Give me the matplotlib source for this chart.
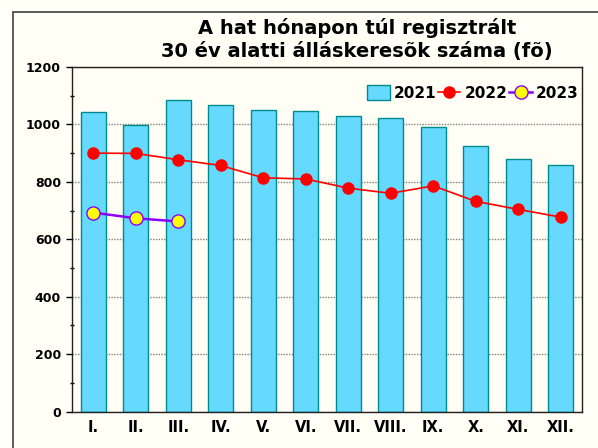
import numpy as np
import matplotlib
matplotlib.use('Agg')
import matplotlib.pyplot as plt
from matplotlib.patches import Rectangle
from matplotlib.ticker import MultipleLocator

#==================================================================
# data
months = ['I.', 'II.', 'III.', 'IV.', 'V.', 'VI.', 'VII.', 'VIII.', 'IX.', 'X.', 'XI.', 'XII.']
v2021 = [1043, 998, 1085, 1067, 1050, 1046, 1029, 1024, 990, 925, 879, 860]
v2022 = [900, 899, 877, 857, 814, 810, 778, 760, 786, 732, 704, 677]
v2023 = [693, 673, 662]
#==================================================================

bg = '#FFFFF5'
W, H = 598, 448
fig = plt.figure(figsize=(W/100, H/100), dpi=100, facecolor=bg)
ax = fig.add_axes([72/W, 1-411.5/H, (582-72)/W, (411.5-67)/H])
ax.set_facecolor(bg)

# outer frame of the chart object (runs off the right and bottom edges)
fig.patches.append(Rectangle((12.5/W, -0.1), 1.2, 1-12.5/H+0.1, transform=fig.transFigure,
                             fill=False, edgecolor='#404040', linewidth=1.2))

x = np.arange(len(months))
b = ax.bar(x, v2021, width=0.59, color='#66D9FF', edgecolor='#008B8B', linewidth=1.0,
           label='2021', zorder=2)
l1, = ax.plot(x, v2022, color='#FF0000', linewidth=1.2, marker='o', markersize=8,
              markerfacecolor='#FF0000', markeredgecolor='#FF0000', label='2022', zorder=3)
l2, = ax.plot(x[:len(v2023)], v2023, color='#8B00FF', linewidth=1.8, marker='o', markersize=9.5,
              markerfacecolor='#FFFF00', markeredgecolor='#8B00FF', label='2023', zorder=3)

ax.set_xlim(-0.5, 11.5)
ax.set_ylim(0, 1200)
ax.yaxis.set_major_locator(MultipleLocator(200))
ax.yaxis.set_minor_locator(MultipleLocator(100))
ax.grid(axis='y', which='major', linestyle=(0, (1, 1)), color='#808080', linewidth=1.0, zorder=0)
ax.set_axisbelow(True)

ax.set_xticks(x)
ax.set_xticklabels(months, fontweight='bold', fontsize=10.5)
for lab in ax.get_yticklabels():
    lab.set_fontweight('bold')
ax.tick_params(axis='y', labelsize=9, length=4, width=1, direction='out', pad=4)
ax.tick_params(axis='y', which='minor', length=3, width=1, direction='inout')
ax.tick_params(axis='x', length=0, pad=6)

for s in ax.spines.values():
    s.set_color('#202020')
    s.set_linewidth(1.0)

fig.text(357/W, 1-28/H, 'A hat hónapon túl regisztrált', ha='center', va='center',
         fontsize=14, fontweight='bold')
fig.text(357/W, 1-51.5/H, '30 év alatti álláskeresõk száma (fõ)', ha='center', va='center',
         fontsize=14, fontweight='bold')

ax.legend([b, l1, l2], ['2021', '2022', '2023'], loc='center right',
          bbox_to_anchor=(0.994, 0.9245), ncol=3, frameon=False,
          prop={'weight': 'bold', 'size': 11}, handlelength=1.45, handleheight=1.1,
          handletextpad=0.3, columnspacing=0.1, borderpad=0, borderaxespad=0)

fig.savefig('out.png', dpi=100, facecolor=bg)
